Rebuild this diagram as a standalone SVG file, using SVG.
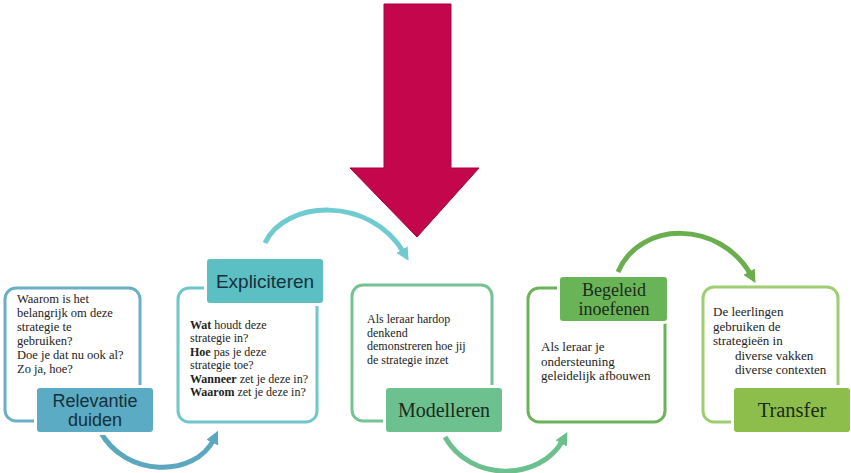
<svg xmlns="http://www.w3.org/2000/svg" width="851" height="473" viewBox="0 0 851 473">
<defs>
<style>
.frame{fill:none;stroke-width:3}
.lbl{stroke:#fff;stroke-width:6;paint-order:stroke}
.body{font-family:"Liberation Serif","DejaVu Serif",serif;fill:#222}
.ls{font-family:"Liberation Sans","DejaVu Sans",sans-serif;fill:#17303a;text-anchor:middle}
.lserif{font-family:"Liberation Serif","DejaVu Serif",serif;fill:#1c2a1c;text-anchor:middle}
.arc{fill:none;stroke-width:5;stroke-linecap:butt}
</style>
<marker id="m1" viewBox="0 0 10 10" refX="3" refY="5" markerWidth="13" markerHeight="13" markerUnits="userSpaceOnUse" orient="auto"><path d="M0,0 L10,5 L0,10 z" fill="#5aa7bf"/></marker>
<marker id="m2" viewBox="0 0 10 10" refX="3" refY="5" markerWidth="13" markerHeight="13" markerUnits="userSpaceOnUse" orient="auto"><path d="M0,0 L10,5 L0,10 z" fill="#6fcbcf"/></marker>
<marker id="m3" viewBox="0 0 10 10" refX="3" refY="5" markerWidth="13" markerHeight="13" markerUnits="userSpaceOnUse" orient="auto"><path d="M0,0 L10,5 L0,10 z" fill="#6cc08e"/></marker>
<marker id="m4" viewBox="0 0 10 10" refX="3" refY="5" markerWidth="13" markerHeight="13" markerUnits="userSpaceOnUse" orient="auto"><path d="M0,0 L10,5 L0,10 z" fill="#6aae4e"/></marker>
</defs>
<rect width="851" height="473" fill="#fff"/>

<g id="big-arrow">
<polygon points="384,4 451,4 451,168 479,168 417,237 350,168 384,168" fill="#c4064c" stroke="#a8003f" stroke-width="1"/>
</g>

<g id="connectors">
<path class="arc" d="M100,431 C125,478 195,478 214,439" stroke="#5aa7bf" marker-end="url(#m1)"/>
<path class="arc" d="M265,243 C285,200 370,195 404,253" stroke="#6fcbcf" marker-end="url(#m2)"/>
<path class="arc" d="M445,437 C470,482 540,482 563,440" stroke="#6cc08e" marker-end="url(#m3)"/>
<path class="arc" d="M618,272 C640,220 720,220 751,275" stroke="#6aae4e" marker-end="url(#m4)"/>
</g>

<g id="relevantie">
<rect class="frame" x="5" y="288" width="135" height="133" rx="11" stroke="#6aafc5"/>
<rect class="lbl" x="37" y="388" width="116" height="44" rx="3" fill="#5aabc3"/>
<text class="ls" font-size="18"><tspan x="95" y="407">Relevantie</tspan><tspan x="95" y="426">duiden</tspan></text>
<text class="body" font-size="12.5">
<tspan x="17" y="303">Waarom is het</tspan>
<tspan x="17" y="317">belangrijk om deze</tspan>
<tspan x="17" y="331">strategie te</tspan>
<tspan x="17" y="345">gebruiken?</tspan>
<tspan x="17" y="359">Doe je dat nu ook al?</tspan>
<tspan x="17" y="373">Zo ja, hoe?</tspan>
</text>
</g>

<g id="expliciteren">
<rect class="frame" x="178" y="288" width="139" height="134" rx="11" stroke="#71c6ca"/>
<rect class="lbl" x="207" y="259" width="116" height="44" rx="3" fill="#5bbfc4"/>
<text class="ls" font-size="19" x="265" y="288">Expliciteren</text>
<text class="body" font-size="12">
<tspan x="190" y="329"><tspan font-weight="bold">Wat</tspan> houdt deze</tspan>
<tspan x="190" y="342.4">strategie in?</tspan>
<tspan x="190" y="355.8"><tspan font-weight="bold">Hoe</tspan> pas je deze</tspan>
<tspan x="190" y="369.2">strategie toe?</tspan>
<tspan x="190" y="382.6"><tspan font-weight="bold">Wanneer</tspan> zet je deze in?</tspan>
<tspan x="190" y="396"><tspan font-weight="bold">Waarom</tspan> zet je deze in?</tspan>
</text>
</g>

<g id="modelleren">
<rect class="frame" x="352" y="285" width="140" height="136" rx="11" stroke="#74c393"/>
<rect class="lbl" x="386" y="388" width="116" height="44" rx="3" fill="#6dc18f"/>
<text class="lserif" font-size="20" x="444" y="417">Modelleren</text>
<text class="body" font-size="12">
<tspan x="367" y="323">Als leraar hardop</tspan>
<tspan x="367" y="336.5">denkend</tspan>
<tspan x="367" y="350">demonstreren hoe jij</tspan>
<tspan x="367" y="363.5">de strategie inzet</tspan>
</text>
</g>

<g id="begeleid">
<rect class="frame" x="528" y="288" width="137" height="134" rx="11" stroke="#6bb35a"/>
<rect class="lbl" x="560" y="277" width="107" height="44" rx="3" fill="#6ab458"/>
<text class="lserif" font-size="18"><tspan x="614" y="296">Begeleid</tspan><tspan x="614" y="315">inoefenen</tspan></text>
<text class="body" font-size="13">
<tspan x="541" y="351">Als leraar je</tspan>
<tspan x="541" y="365.5">ondersteuning</tspan>
<tspan x="541" y="380">geleidelijk afbouwen</tspan>
</text>
</g>

<g id="transfer">
<rect class="frame" x="703" y="287" width="135" height="135" rx="11" stroke="#9fcd72"/>
<rect class="lbl" x="734" y="388" width="116" height="44" rx="3" fill="#8dbe4c"/>
<text class="lserif" font-size="20.5" x="792" y="417">Transfer</text>
<text class="body" font-size="13">
<tspan x="713" y="316">De leerlingen</tspan>
<tspan x="713" y="330.5">gebruiken de</tspan>
<tspan x="713" y="345">strategieën in</tspan>
<tspan x="735" y="359.5">diverse vakken</tspan>
<tspan x="735" y="374">diverse contexten</tspan>
</text>
</g>
</svg>
